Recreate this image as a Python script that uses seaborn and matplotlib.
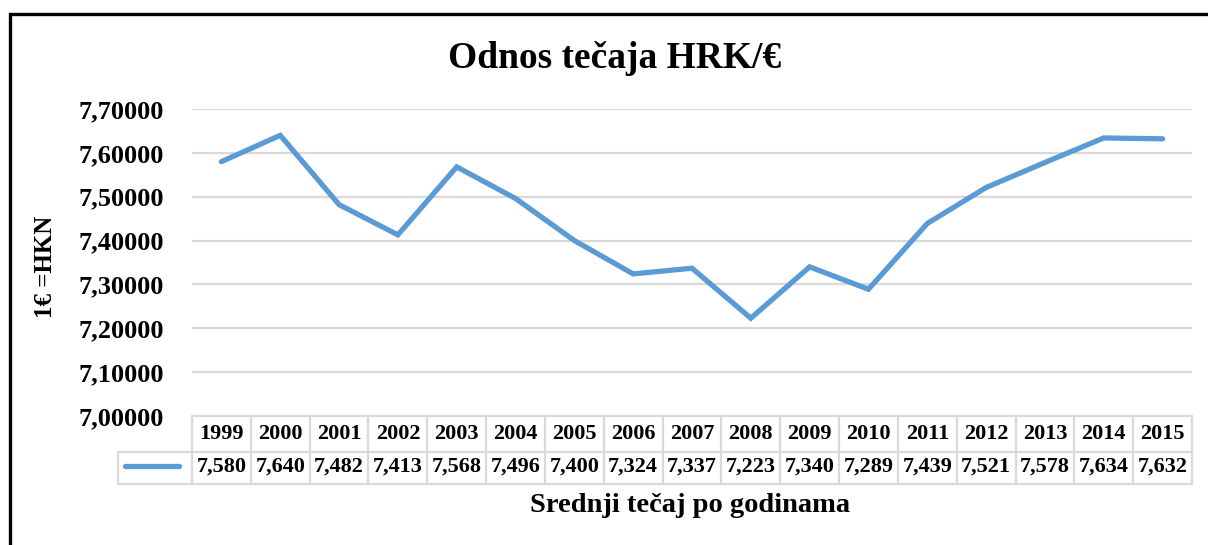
import numpy as np
import pandas as pd
import matplotlib
matplotlib.use("Agg")
import matplotlib.pyplot as plt
import matplotlib.transforms as mtransforms
from matplotlib.patches import Rectangle
from matplotlib.lines import Line2D
from matplotlib.ticker import FuncFormatter
import seaborn as sns

# data
years = ["1999", "2000", "2001", "2002", "2003", "2004", "2005", "2006", "2007",
         "2008", "2009", "2010", "2011", "2012", "2013", "2014", "2015"]
rates = [7.580, 7.640, 7.482, 7.413, 7.568, 7.496, 7.400, 7.324, 7.337,
         7.223, 7.340, 7.289, 7.439, 7.521, 7.578, 7.634, 7.632]
y_ticks = [7.0, 7.1, 7.2, 7.3, 7.4, 7.5, 7.6, 7.7]

title = "Odnos tečaja HRK/€"
y_label = "1€ =HKN"
x_label = "Srednji tečaj po godinama"

LINE_C = "#5B9BD5"
GRID_C = "#D9D9D9"
W, H = 1208, 545


def main():
    sns.set_style("white")
    plt.rcParams["font.family"] = ["Liberation Serif", "DejaVu Serif"]
    plt.rcParams["font.weight"] = "bold"
    plt.rcParams["text.color"] = "black"
    plt.rcParams["ytick.color"] = "black"

    df = pd.DataFrame({"pos": np.arange(len(years)), "rate": rates})

    fig = plt.figure(figsize=(W / 100, H / 100), dpi=100)
    fx = lambda px: px / W
    fy = lambda py: 1 - py / H
    ax = fig.add_axes([fx(192), fy(416), fx(1192) - fx(192), fy(109) - fy(416)])

    sns.lineplot(data=df, x="pos", y="rate", ax=ax, color=LINE_C, linewidth=3.8,
                 solid_capstyle="round", solid_joinstyle="miter", zorder=3)

    ax.set_xlim(-0.5, len(years) - 0.5)
    ax.set_ylim(y_ticks[0], y_ticks[-1])
    ax.set_yticks(y_ticks)
    ax.yaxis.set_major_formatter(FuncFormatter(lambda v, p: f"{v:.5f}".replace(".", ",")))
    ax.set_xticks([])
    ax.tick_params(axis="y", length=0, pad=20, labelsize=19, labelcolor="black")
    for lab in ax.get_yticklabels():
        lab.set_fontweight("bold")
    ax.yaxis.grid(True, color=GRID_C, linewidth=1.6)
    ax.set_axisbelow(True)
    for s in ax.spines.values():
        s.set_visible(False)
    ax.set_xlabel("")
    ax.set_ylabel("")

    # data table under the plot
    tr = mtransforms.blended_transform_factory(ax.transData, fig.transFigure)
    n = len(years)
    y_top, y_mid, y_bot = fy(416), fy(452), fy(484)
    lw = 1.6
    fig.add_artist(Line2D([-0.5, n - 0.5], [y_top, y_top], transform=tr, color=GRID_C, lw=lw))
    fig.add_artist(Line2D([fx(118), fx(1192)], [y_mid, y_mid], transform=fig.transFigure, color=GRID_C, lw=lw))
    fig.add_artist(Line2D([fx(118), fx(1192)], [y_bot, y_bot], transform=fig.transFigure, color=GRID_C, lw=lw))
    fig.add_artist(Line2D([fx(118), fx(118)], [y_mid, y_bot], transform=fig.transFigure, color=GRID_C, lw=lw))
    for i in range(n + 1):
        fig.add_artist(Line2D([i - 0.5, i - 0.5], [y_top, y_bot], transform=tr, color=GRID_C, lw=lw))
    for i, (yr, v) in enumerate(zip(years, rates)):
        fig.text(i, fy(434), yr, transform=tr, ha="center", va="center",
                 fontsize=16, fontweight="bold")
        fig.text(i, fy(467), f"{v:.3f}".replace(".", ","), transform=tr,
                 ha="center", va="center", fontsize=16, fontweight="bold")
    fig.add_artist(Line2D([fx(125), fx(179)], [fy(466), fy(466)], transform=fig.transFigure,
                          color=LINE_C, lw=3.8, solid_capstyle="round"))

    fig.text(fx(615), fy(58), title, ha="center", va="center", fontsize=27, fontweight="bold")
    fig.text(fx(45), fy(267), y_label, ha="center", va="center", rotation=90,
             fontsize=18, fontweight="bold")
    fig.text(fx(690), fy(505), x_label, ha="center", va="center", fontsize=20.5, fontweight="bold")

    # outer frame
    fig.add_artist(Rectangle((fx(10), -0.1), 1.2, fy(14) + 0.1, transform=fig.transFigure,
                             fill=False, edgecolor="black", linewidth=2.4))

    fig.savefig("out.png", dpi=100)
    plt.close(fig)


if __name__ == "__main__":
    main()
